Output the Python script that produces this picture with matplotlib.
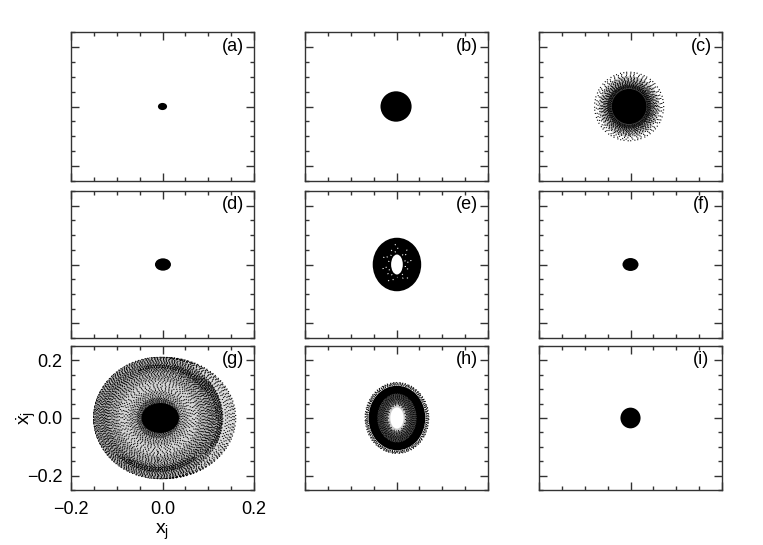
import matplotlib
matplotlib.use('Agg')
import matplotlib.pyplot as plt
from matplotlib.patches import Ellipse, Arc
from matplotlib.ticker import MultipleLocator

plt.rcParams['font.family'] = ['Liberation Sans', 'DejaVu Sans']
plt.rcParams['mathtext.fontset'] = 'custom'
plt.rcParams['mathtext.rm'] = 'Liberation Sans'
plt.rcParams['mathtext.default'] = 'rm'
plt.rcParams['lines.scale_dashes'] = False

panel_labels = ['(a)', '(b)', '(c)', '(d)', '(e)', '(f)', '(g)', '(h)', '(i)']
x_tick_labels = ['\u22120.2', '0.0', '0.2']
y_tick_labels = ['\u22120.2', '0.0', '0.2']

# extent of the attractor: centre x, half width, half height
center_x = [0.0, -0.001, -0.003, 0.001, 0.001, 0.0, -0.005, 0.001, 0.0]
half_w = [0.010, 0.034, 0.038, 0.0175, 0.053, 0.0175, 0.041, 0.062, 0.022]
half_h = [0.012, 0.051, 0.059, 0.021, 0.091, 0.022, 0.052, 0.112, 0.036]
# white hole in the middle, 0 when there is none
hole_w = [0, 0, 0, 0, 0.0128, 0, 0, 0.0146, 0]
hole_h = [0, 0, 0, 0, 0.034, 0, 0, 0.037, 0]

# sparse orbits: half width, half height, gap between dots, dash offset
c_orbits_w = [0.040, 0.042, 0.044, 0.046, 0.048, 0.050, 0.052, 0.054, 0.056, 0.058, 0.060, 0.062, 0.065, 0.068, 0.0715, 0.0755]
c_orbits_h = [0.063, 0.066, 0.069, 0.072, 0.075, 0.078, 0.081, 0.084, 0.087, 0.090, 0.093, 0.096, 0.100, 0.105, 0.110, 0.115]
c_orbits_gap = [0.5, 0.6, 0.7, 0.8, 0.9, 1.0, 1.1, 1.2, 1.3, 1.4, 1.5, 1.7, 1.9, 2.1, 2.2, 1.7]
c_orbits_off = [1.5, 0.3, 1.1, 0.7, 1.9, 0.2, 1.4, 0.9, 2.3, 0.5, 1.7, 0.1, 2.0, 1.2, 0.6, 1.6]
e_orbits_w = [0.0185, 0.024, 0.031]
e_orbits_h = [0.044, 0.055, 0.068]
e_orbits_gap = [4.0, 5.0, 9.0]
e_orbits_off = [0.4, 1.3, 0.8]
h_orbits_w = [0.019, 0.022, 0.025, 0.028, 0.031, 0.034, 0.037, 0.040, 0.043, 0.064, 0.066, 0.068, 0.0695]
h_orbits_h = [0.045, 0.050, 0.055, 0.060, 0.065, 0.070, 0.075, 0.080, 0.085, 0.115, 0.118, 0.121, 0.123]
h_orbits_gap = [1.6, 1.3, 0.9, 0.8, 0.8, 0.8, 0.7, 0.7, 0.6, 0.6, 0.8, 1.0, 1.4]
h_orbits_off = [1.5, 0.8, 1.9, 0.4, 1.2, 2.1, 0.6, 1.7, 1.0, 0.3, 1.4, 2.2, 0.9]
# average darkness of the dotted bands: half width, half height, grey
c_shade_w = [0.066, 0.056, 0.048]
c_shade_h = [0.102, 0.086, 0.074]
c_shade_grey = ['#d0d0d0', '#a0a0a0', '#505050']
h_shade_w = [0.043, 0.029, 0.020]
h_shade_h = [0.085, 0.062, 0.047]
h_shade_grey = ['#505050', '#707070', '#c8c8c8']
# panel (g) bands: the main disc, fractions of its size
g_main_w = 0.141
g_main_h = 0.21
g_main_cx = -0.009
g_main_scale = [0.25, 0.27, 0.29, 0.31, 0.33, 0.355, 0.38, 0.405, 0.43, 0.455, 0.48, 0.505, 0.53, 0.555, 0.58, 0.605, 0.63, 0.655,
                0.68, 0.70, 0.72, 0.74, 0.76, 0.775, 0.79, 0.805, 0.82, 0.835, 0.85, 0.865, 0.88,
                0.895, 0.91, 0.925, 0.94, 0.955, 0.97, 0.985, 1.0]
g_main_gap = [0.5, 0.7, 0.8, 0.9, 1.0, 1.1, 1.2, 1.3, 1.4, 1.5, 1.7, 1.9, 2.1, 2.1, 1.9, 1.7, 1.5, 1.4,
              1.4, 1.4, 1.4, 1.4, 1.4, 1.3, 1.3, 1.3, 1.3, 1.2, 1.2, 1.2, 1.2,
              1.2, 1.2, 1.2, 1.2, 1.2, 1.3, 1.3, 1.5]
g_main_off = [1.6, 0.9, 0.4, 1.3, 2.2, 0.7, 1.8, 0.1, 2.6, 1.0, 0.5, 2.1, 1.5, 0.3, 2.8, 1.2, 0.8, 2.3,
              1.7, 0.2, 1.1, 2.5, 0.6, 1.9, 0.9, 2.4, 1.4, 0.0, 2.0, 1.6, 0.45,
              2.7, 1.25, 0.75, 2.15, 1.85, 0.35, 2.55, 1.05]
g_shade_scale = [1.0, 0.90, 0.78, 0.62, 0.45, 0.34]
g_shade_grey = ['#b8b8b8', '#acacac', '#b8b8b8', '#d4d4d4', '#bcbcbc', '#888888']
# panel (g) crescent on the right: centre x and half width
g_crescent_cx = [-0.006, -0.004, -0.002, 0.0, 0.002, 0.0035, 0.005]
g_crescent_w = [0.144, 0.146, 0.148, 0.150, 0.152, 0.1535, 0.155]
g_crescent_off = [0.6, 1.7, 0.2, 2.4, 1.1, 0.9, 1.9]
# panel (g) darker stretches: fraction of the disc, start and end angle in degrees
g_dark_scale = [0.985, 0.96, 0.93, 0.90, 0.87, 0.84, 0.88, 0.85, 0.82]
g_dark_from = [-35, -40, -50, 0, 35, 45, 235, 240, 245]
g_dark_to = [50, 55, 60, 80, 100, 105, 300, 300, 295]

orbits = {2: (c_orbits_w, c_orbits_h, c_orbits_gap, c_orbits_off),
          4: (e_orbits_w, e_orbits_h, e_orbits_gap, e_orbits_off),
          7: (h_orbits_w, h_orbits_h, h_orbits_gap, h_orbits_off)}
shades = {2: (c_shade_w, c_shade_h, c_shade_grey), 7: (h_shade_w, h_shade_h, h_shade_grey)}

fig = plt.figure(figsize=(7.63, 5.45), dpi=100)
W, H = 763.0, 545.0
lefts = [71, 305, 539]
rows = [(32, 181), (191, 338), (346, 490)]
axw = 183


def ring(ax, cx, w, h, gap, off, color='k'):
    # dots with different gaps so they do not line up into spokes
    pattern = (0.7, gap, 0.7, gap * 1.37, 0.7, gap * 0.83)
    ax.add_patch(Ellipse((cx, 0), 2 * w, 2 * h, fill=False, ec=color, lw=0.9, ls=(off, pattern)))


def disc(ax, cx, w, h, color):
    ax.add_patch(Ellipse((cx, 0), 2 * w, 2 * h, fc=color, ec='none'))


for i in range(9):
    top, bottom = rows[i // 3]
    ax = fig.add_axes([lefts[i % 3] / W, 1 - bottom / H, axw / W, (bottom - top) / H])
    ax.set_xlim(-0.2, 0.2)
    ax.set_ylim(-0.25, 0.25)
    ax.xaxis.set_major_locator(MultipleLocator(0.2))
    ax.xaxis.set_minor_locator(MultipleLocator(0.05))
    ax.yaxis.set_major_locator(MultipleLocator(0.2))
    ax.yaxis.set_minor_locator(MultipleLocator(0.05))
    ax.tick_params(which='both', direction='in', top=True, right=True, width=1, labelsize=13,
                   color='#333333')
    ax.tick_params(which='major', length=6, pad=6)
    ax.tick_params(which='minor', length=3)
    ax.tick_params(axis='x', which='major', pad=8)
    for s in ax.spines.values():
        s.set_linewidth(1)
        s.set_color('#333333')
    if i == 6:
        ax.set_xticks([-0.2, 0, 0.2], x_tick_labels)
        ax.set_yticks([-0.2, 0, 0.2], y_tick_labels)
        ax.set_xlabel(r'$x_j$', fontsize=14, labelpad=3)
        ax.set_ylabel(r'$\dot{x}_j$', fontsize=14, labelpad=-8)
    else:
        ax.tick_params(which='both', labelbottom=False, labelleft=False)
    ax.text(0.885, 0.905, panel_labels[i], transform=ax.transAxes, fontsize=13,
            ha='center', va='center')

    if i == 6:
        disc(ax, g_crescent_cx[-1], g_crescent_w[-1], g_main_h, '#dcdcdc')
        for cx, w, off in zip(g_crescent_cx, g_crescent_w, g_crescent_off):
            ring(ax, cx, w, g_main_h, 1.7, off)
        for s, grey in zip(g_shade_scale, g_shade_grey):
            disc(ax, g_main_cx, g_main_w * s, g_main_h * s, grey)
        for s, gap, off in zip(g_main_scale, g_main_gap, g_main_off):
            ring(ax, g_main_cx, g_main_w * s, g_main_h * s, gap, off)
        for s, t1, t2 in zip(g_dark_scale, g_dark_from, g_dark_to):
            ax.add_patch(Arc((g_main_cx, 0), 2 * g_main_w * s, 2 * g_main_h * s, theta1=t1, theta2=t2,
                             color='k', lw=0.9, ls=(0, (0.9, 0.7))))
    if i in shades:
        if i == 7:
            disc(ax, center_x[i], half_w[i], half_h[i], 'k')
        for w, h, grey in zip(*shades[i]):
            disc(ax, center_x[i], w, h, grey)
    if i != 7:
        disc(ax, center_x[i], half_w[i], half_h[i], 'k')
    if hole_w[i] > 0:
        disc(ax, center_x[i], hole_w[i], hole_h[i], 'w')
    if i in orbits:
        for w, h, gap, off in zip(*orbits[i]):
            ring(ax, center_x[i], w, h, gap, off, color='w' if i == 4 else 'k')

fig.savefig('out.png', dpi=100)
